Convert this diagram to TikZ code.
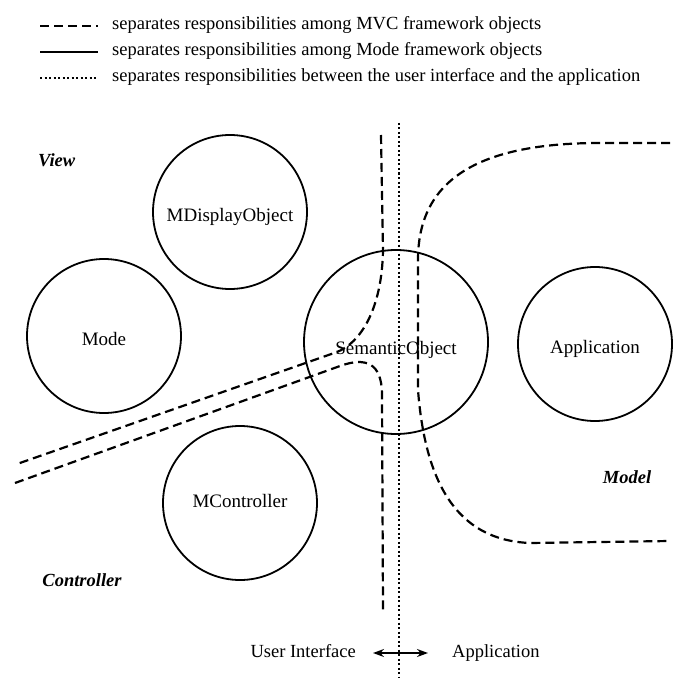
\documentclass[tikz,border=0pt]{standalone}
\usepackage{fontspec}
\setmainfont{Liberation Serif}
\usetikzlibrary{arrows.meta}
\begin{document}
\begin{tikzpicture}[x=1pt,y=-1pt,
  obj/.style={circle,draw,line width=1.8pt,inner sep=0pt,font=\fontsize{19}{21}\selectfont,text height=24pt,text depth=5pt},
  mvc/.style={line width=2.2pt,dash pattern=on 9pt off 5pt},
  uiapp/.style={line width=2pt,dash pattern=on 2pt off 2.5pt},
  modesep/.style={line width=1.8pt},
  legtext/.style={anchor=west,font=\fontsize{18.5}{20}\selectfont,inner sep=0pt,text height=12pt,text depth=4pt},
  region/.style={font=\fontsize{18.5}{20}\selectfont\bfseries\itshape,inner sep=0pt},
  plain/.style={font=\fontsize{18.5}{20}\selectfont,inner sep=0pt,text height=13pt,text depth=4pt}]
\useasboundingbox[fill=white] (0,0) rectangle (678,679);

% legend
\draw[mvc] (40,26) -- (98,26);
\node[legtext] (leg1) at (112,26) {separates responsibilities among MVC framework objects};
\draw[modesep] (40,52) -- (98,52);
\node[legtext] (leg2) at (112,52) {separates responsibilities among Mode framework objects};
\draw[uiapp] (40,78) -- (98,78);
\node[legtext] (leg3) at (112,78) {separates responsibilities between the user interface and the application};

% objects
\node[obj,minimum size=154pt] (mdisp) at (230,212) {MDisplayObject};
\node[obj,minimum size=154pt] (mode) at (104,336) {Mode};
\node[obj,minimum size=184pt,text height=30pt] (sem) at (396,342) {SemanticObject};
\node[obj,minimum size=154pt] (app) at (595,344) {Application};
\node[obj,minimum size=154pt,text height=14pt] (mctrl) at (240,503) {MController};

% region labels
\node[region,anchor=west] (view) at (38,160) {View};
\node[region] (ctrl) at (82,580) {Controller};
\node[region] (model) at (627,477) {Model};

% separators
\draw[uiapp] (399,123) -- (399,677);
\draw[mvc] (381,135) -- (383,250) .. controls (382,310) and (360,343) .. (337,352) -- (17,464);
\draw[mvc] (15,483) -- (340,366) .. controls (365,357) and (382,362) .. (382,395) -- (383,610);
\draw[mvc] (670,143) -- (600,143) .. controls (470,143) and (418,185) .. (418,260) -- (418,390)
  .. controls (425,480) and (455,540) .. (530,543) -- (670,541);

% bottom labels
\node[plain,anchor=east] (ui) at (356,653) {User Interface};
\node[plain,anchor=west] (appl) at (452,653) {Application};
\draw[line width=1.6pt,{Stealth[length=11pt,width=8pt]}-{Stealth[length=11pt,width=8pt]},shorten <=17pt,shorten >=24pt] (ui.east) -- (appl.west);
\end{tikzpicture}
\end{document}
